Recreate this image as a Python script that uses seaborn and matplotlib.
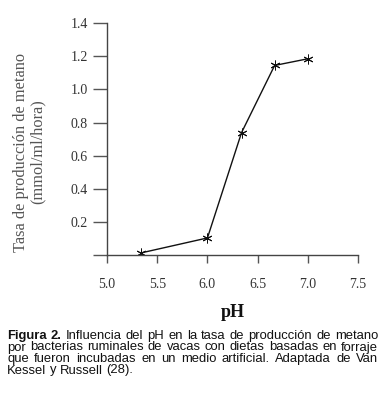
import matplotlib
matplotlib.use("Agg")
import matplotlib.pyplot as plt
import seaborn as sns
import pandas as pd

# values
ph = [5.34, 6.0, 6.34, 6.67, 7.0]
metano = [0.015, 0.105, 0.74, 1.145, 1.185]
xticks = [5.0, 5.5, 6.0, 6.5, 7.0, 7.5]
yticks = [0.0, 0.2, 0.4, 0.6, 0.8, 1.0, 1.2, 1.4]
ytick_labels = ["", "0.2", "0.4", "0.6", "0.8", "1.0", "1.2", "1.4"]

caption_lines = [
    "Influencia del pH en la tasa de producción de metano",
    "por bacterias ruminales de vacas con dietas basadas en forraje",
    "que fueron incubadas en un medio artificial.  Adaptada de Van",
    "Kessel y Russell (28).",
]

df = pd.DataFrame({"pH": ph, "metano": metano})

sns.set_style("white")
plt.rcParams["font.family"] = ["Liberation Serif", "DejaVu Serif"]

fig = plt.figure(figsize=(3.84, 3.99), dpi=100)
ax = fig.add_axes([0.279, 0.36, 0.653, 0.582])

sns.lineplot(data=df, x="pH", y="metano", ax=ax, color="#111111", linewidth=1.0,
             marker=(6, 2, 0), markersize=7, markeredgewidth=0.7,
             markeredgecolor="#111111")

ax.set_xlim(5.0, 7.5)
ax.set_ylim(0, 1.4)
ax.set_xticks(xticks)
ax.set_xticklabels([f"{t:.1f}" for t in xticks])
ax.set_yticks(yticks)
ax.set_yticklabels(ytick_labels)
ax.tick_params(axis="x", direction="out", length=6, width=1, color="#555555",
               labelsize=10, labelcolor="#333333", pad=10, bottom=True)
ax.tick_params(axis="y", direction="out", length=10, width=1, color="#555555",
               labelsize=10, labelcolor="#333333", pad=4, left=True)
for side in ["top", "right"]:
    ax.spines[side].set_visible(False)
for side in ["left", "bottom"]:
    ax.spines[side].set_color("#444444")
    ax.spines[side].set_linewidth(1.0)

ax.set_xlabel("pH", fontsize=13, fontweight="bold", color="#111111", labelpad=10)
ax.set_ylabel("Tasa de producción de metano\n(mmol/ml/hora)", fontsize=11.8,
              color="#555555", linespacing=1.05)
# right edge of the label at about x=45px, centre at y=152px
ax.yaxis.set_label_coords(-0.245, 0.445)

# caption, justified by hand
fig.canvas.draw()
renderer = fig.canvas.get_renderer()
left_px, right_px = 7, 378
y0 = 399 - 336
step = 11.5
size = 9.4
sp_a = fig.text(0, 0, "a a", fontsize=size, family="Liberation Sans")
sp_b = fig.text(0, 0, "aa", fontsize=size, family="Liberation Sans")
sp = sp_a.get_window_extent(renderer).width - sp_b.get_window_extent(renderer).width
sp_a.remove()
sp_b.remove()
for i, line in enumerate(caption_lines):
    ypx = y0 - i * step
    words = line.split()
    if i == 0:
        words = ["Figura", "2."] + words
    justify = i < len(caption_lines) - 1
    texts = []
    for j, w in enumerate(words):
        bold = i == 0 and j < 2
        t = fig.text(0, ypx / 399, w, fontsize=size, family="Liberation Sans",
                     fontweight="bold" if bold else "normal", color="#111111",
                     va="center", ha="left")
        texts.append(t)
    widths = [t.get_window_extent(renderer).width for t in texts]
    if justify:
        gap = (right_px - left_px - sum(widths)) / (len(words) - 1)
    else:
        gap = sp
    x = left_px
    for t, w in zip(texts, widths):
        t.set_x(x / 384)
        x += w + gap

fig.savefig("out.png", dpi=100)
